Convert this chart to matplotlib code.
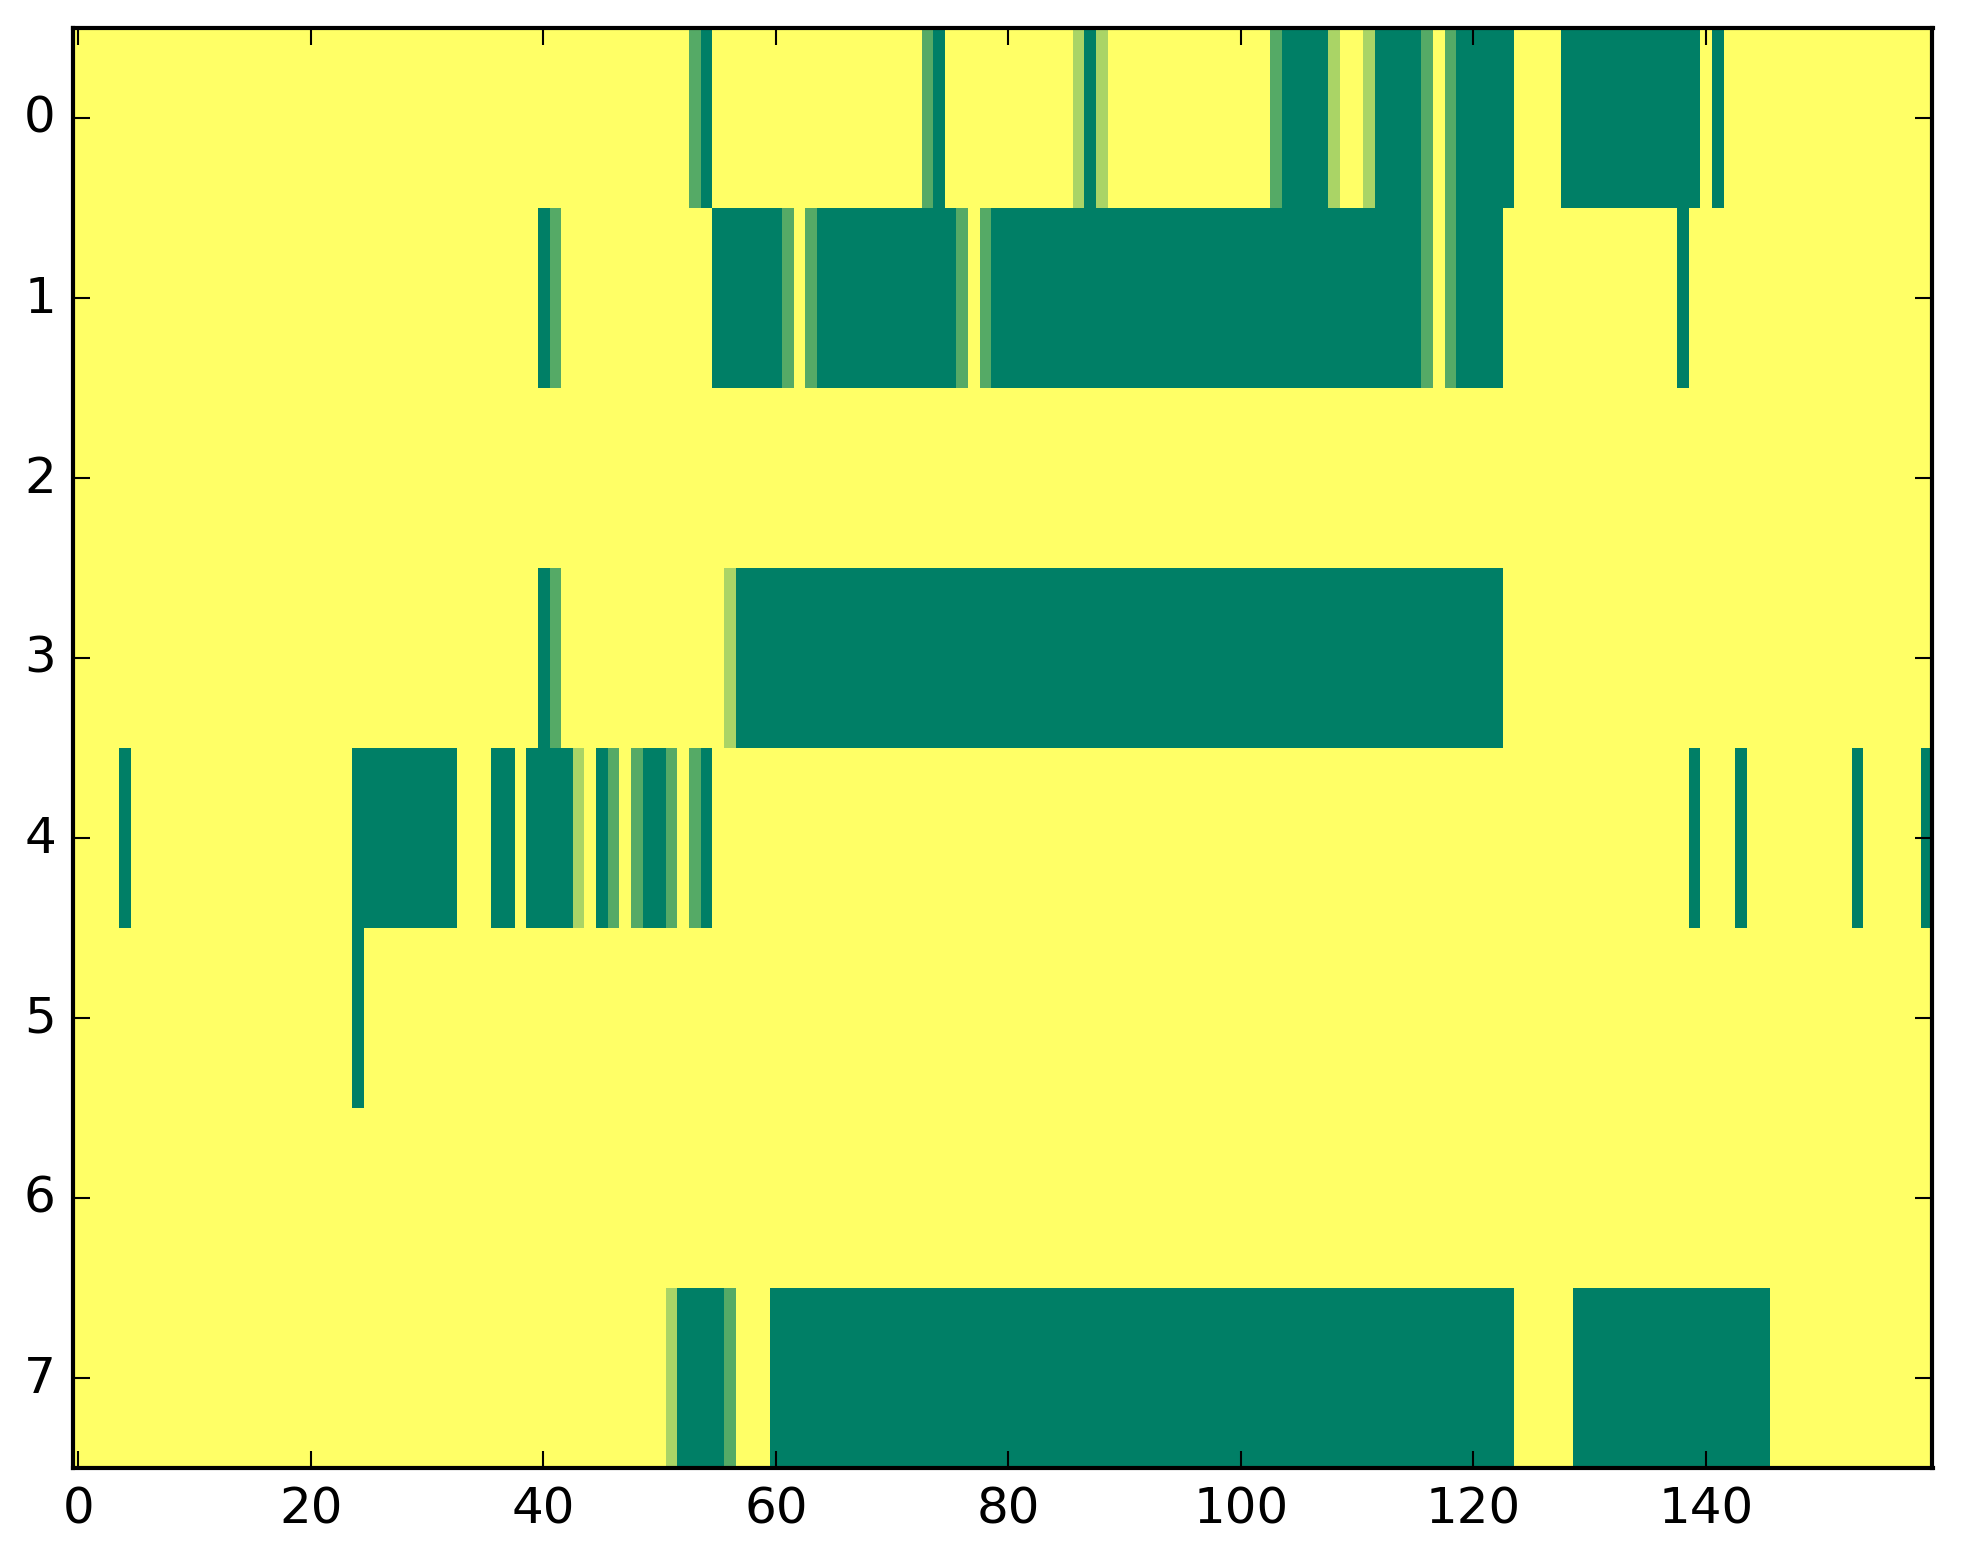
import numpy as np
import matplotlib
matplotlib.use('Agg')
import matplotlib.pyplot as plt

plt.style.use('classic')

n_rows = 8
n_cols = 160

# levels: 1 -> 1/3, 2 -> 2/3, 3 -> 1
# each run is (first column, last column, level); everything else is 0
row0 = [(53, 53, 2), (54, 54, 3), (73, 73, 2), (74, 74, 3), (86, 86, 1), (87, 87, 3),
        (88, 88, 1), (103, 103, 2), (104, 107, 3), (108, 108, 1), (111, 111, 1),
        (112, 115, 3), (116, 116, 2), (118, 118, 2), (119, 123, 3), (128, 139, 3),
        (141, 141, 3)]
row1 = [(40, 40, 3), (41, 41, 2), (55, 60, 3), (61, 61, 2), (63, 63, 2), (64, 75, 3),
        (76, 76, 2), (78, 78, 2), (79, 115, 3), (116, 116, 2), (118, 118, 2),
        (119, 122, 3), (138, 138, 3)]
row2 = []
row3 = [(40, 40, 3), (41, 41, 2), (56, 56, 1), (57, 122, 3)]
row4 = [(4, 4, 3), (24, 32, 3), (36, 37, 3), (39, 42, 3), (43, 43, 1), (45, 45, 3),
        (46, 46, 2), (48, 48, 2), (49, 50, 3), (51, 51, 2), (53, 53, 2), (54, 54, 3),
        (139, 139, 3), (143, 143, 3), (153, 153, 3), (159, 159, 3)]
row5 = [(24, 24, 3)]
row6 = []
row7 = [(51, 51, 1), (52, 55, 3), (56, 56, 2), (60, 123, 3), (129, 145, 3)]

rows = [row0, row1, row2, row3, row4, row5, row6, row7]

data = np.zeros((n_rows, n_cols))
for i, runs in enumerate(rows):
    for a, b, lev in runs:
        data[i, a:b + 1] = lev / 3.0

fig = plt.figure(figsize=(1963 / 300, 1564 / 300), dpi=300)
ax = fig.add_axes([72.5 / 1963, 1 - 1468.7 / 1564, (1932.5 - 72.5) / 1963, 1440 / 1564])
ax.imshow(data, cmap='summer_r', vmin=0, vmax=1, aspect='auto', interpolation='nearest')
ax.set_xticks(np.arange(0, 141, 20))
ax.set_yticks(np.arange(0, 8))
ax.tick_params(labelsize=12)

fig.savefig('out.png', dpi=300)
